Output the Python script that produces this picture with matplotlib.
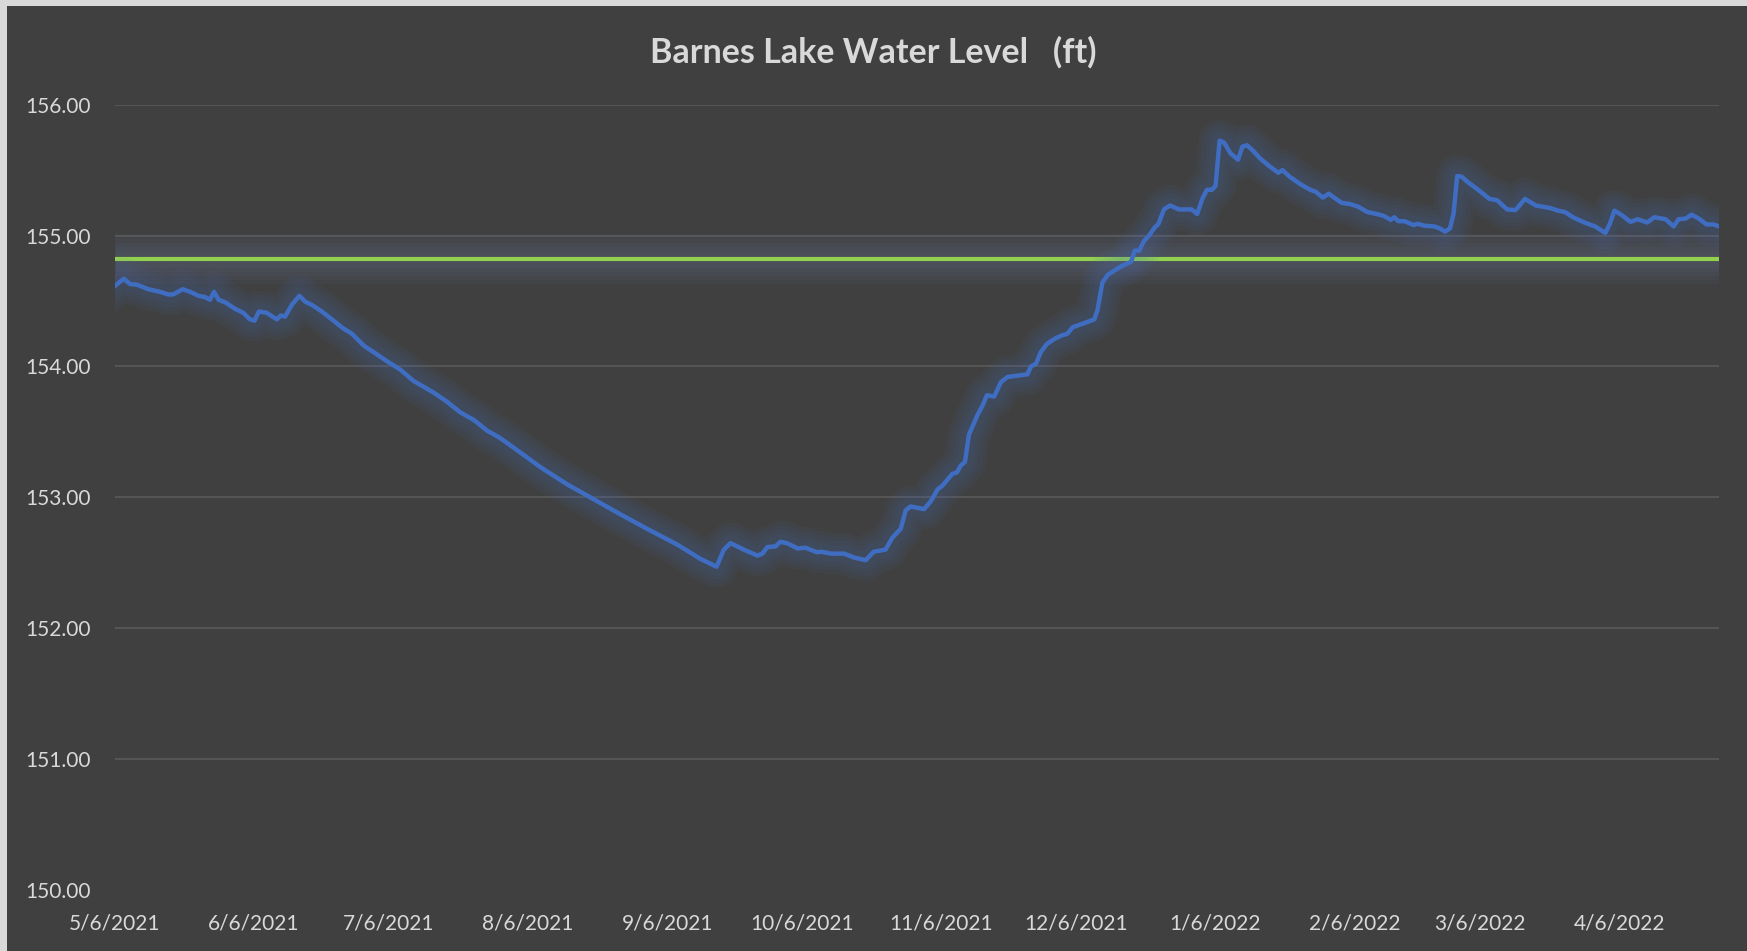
import datetime as dt
import matplotlib
matplotlib.use("Agg")
import matplotlib.pyplot as plt
import matplotlib.dates as mdates
import matplotlib.patheffects as pe

# Barnes Lake level (days after 5/6/2021, feet)
start = dt.date(2021, 5, 6)
days = [0, 2.0, 3.4, 4.9, 7.5, 10.1, 11.9, 13.0, 15.1, 16.8, 18.6, 20.1, 21.2, 22.1, 23.1,
        24.6, 26.8, 28.6, 30.1, 31.1, 32.1, 33.8, 36.1, 37.0, 37.9, 39.4, 41.1, 42.4, 43.9,
        46.1, 48.3, 50.9, 52.8, 55.4, 57.6, 60.6, 63.6, 66.5, 71.0, 74.0, 76.9, 80.0, 82.9,
        85.5, 88.8, 94.8, 100.7, 107.4, 112.6, 118.5, 125.2, 130.4, 134.0, 135.6, 137.1,
        140.1, 143.1, 144.2, 145.3, 147.1, 148.2, 149.7, 152.0, 153.8, 154.9, 156.4, 157.3,
        159.4, 162.4, 164.6, 167.2, 169.0, 171.6, 173.1, 175.0, 176.1, 177.2, 180.2, 181.7,
        183.2, 184.3, 186.5, 187.5, 188.4, 189.3, 190.2, 192.1, 193.2, 194.2, 195.8, 197.3,
        198.8, 201.0, 203.2, 204.0, 205.1, 206.2, 207.5, 209.2, 210.7, 212.1, 213.3, 215.8,
        218.1, 218.8, 219.9, 221.1, 222.9, 224.4, 226.3, 227.1, 228.1, 229.2, 230.3, 231.5,
        232.4, 233.6, 235.0, 236.9, 239.8, 241.0, 242.2, 243.2, 244.3, 245.1, 246.0, 247.0,
        248.4, 250.1, 251.1, 252.1, 253.4, 255.0, 257.1, 259.1, 260.0, 261.6, 264.1, 266.2,
        267.4, 269.0, 270.3, 271.5, 273.2, 275.2, 276.9, 278.9, 281.0, 282.6, 284.1, 284.9,
        285.8, 287.2, 289.2, 290.1, 291.7, 293.8, 295.0, 296.2, 297.3, 298.1, 298.9, 299.9,
        301.2, 302.4, 304.1, 306.1, 307.8, 310.0, 311.9, 314.0, 316.4, 318.1, 319.7, 321.4,
        322.9, 324.7, 327.2, 329.6, 331.9, 332.9, 333.9, 335.4, 337.5, 339.1, 341.2, 342.8,
        345.3, 347.1, 348.2, 349.8, 351.1, 352.7, 354.4, 356.0, 357.2]
level = [154.615, 154.67, 154.63, 154.625, 154.59, 154.57, 154.55, 154.55, 154.59, 154.57,
         154.54, 154.53, 154.51, 154.57, 154.51, 154.49, 154.44, 154.41, 154.36, 154.35,
         154.42, 154.41, 154.36, 154.39, 154.38, 154.47, 154.54, 154.495, 154.47, 154.42,
         154.36, 154.29, 154.25, 154.16, 154.11, 154.04, 153.975, 153.89, 153.80, 153.73,
         153.65, 153.59, 153.51, 153.46, 153.38, 153.23, 153.10, 152.97, 152.87, 152.76,
         152.64, 152.53, 152.47, 152.60, 152.65, 152.60, 152.555, 152.57, 152.62, 152.625,
         152.66, 152.65, 152.61, 152.615, 152.60, 152.58, 152.585, 152.57, 152.57, 152.54,
         152.52, 152.585, 152.60, 152.69, 152.76, 152.90, 152.93, 152.91, 152.97, 153.06,
         153.09, 153.18, 153.19, 153.245, 153.27, 153.48, 153.63, 153.70, 153.78, 153.77,
         153.88, 153.92, 153.93, 153.94, 154.00, 154.02, 154.11, 154.17, 154.21, 154.235,
         154.25, 154.30, 154.33, 154.36, 154.43, 154.64, 154.70, 154.74, 154.77, 154.80,
         154.885, 154.885, 154.96, 155.00, 155.06, 155.09, 155.20, 155.23, 155.20, 155.20,
         155.165, 155.285, 155.35, 155.35, 155.38, 155.725, 155.71, 155.63, 155.58, 155.68,
         155.69, 155.65, 155.59, 155.53, 155.48, 155.50, 155.45, 155.39, 155.35, 155.335,
         155.29, 155.32, 155.29, 155.25, 155.24, 155.22, 155.18, 155.165, 155.15, 155.12,
         155.14, 155.11, 155.11, 155.08, 155.09, 155.075, 155.07, 155.055, 155.03, 155.055,
         155.17, 155.455, 155.45, 155.41, 155.38, 155.335, 155.28, 155.27, 155.20, 155.195,
         155.28, 155.23, 155.22, 155.21, 155.19, 155.18, 155.14, 155.10, 155.07, 155.02,
         155.09, 155.19, 155.16, 155.105, 155.125, 155.10, 155.14, 155.125, 155.07, 155.125,
         155.13, 155.16, 155.13, 155.085, 155.085, 155.07]
target_level = 154.82
y_ticks = [150, 151, 152, 153, 154, 155, 156]
tick_dates = [dt.date(2021, m, 6) for m in range(5, 13)] + [dt.date(2022, m, 6) for m in range(1, 5)]

plt.rcParams["font.family"] = ["Lato", "DejaVu Sans"]
bg = "#404040"
txt = "#D9D9D9"

fig = plt.figure(figsize=(17.47, 9.51), dpi=100, facecolor=bg)
# light strip on left and top edge, as in the screenshot
fig.add_artist(plt.Rectangle((0, 0), 7 / 1747, 1, transform=fig.transFigure,
                             facecolor="#D9D9D9", edgecolor="none"))
fig.add_artist(plt.Rectangle((0, 1 - 6 / 951), 1, 6 / 951, transform=fig.transFigure,
                             facecolor="#D9D9D9", edgecolor="none"))
ax = fig.add_axes([114.8 / 1747, 1 - 890 / 951, (1719 - 114.8) / 1747, (890 - 104.7) / 951])
ax.set_facecolor(bg)

x0 = mdates.date2num(start)
xs = [x0 + d for d in days]

def glow_fx(color, widths, a):
    fx = [pe.Stroke(linewidth=w, foreground=color, alpha=a) for w in widths]
    fx.append(pe.Normal())
    return fx

ax.plot([xs[0], xs[-1]], [target_level, target_level], color="#92D050", lw=3.0,
        solid_capstyle="butt", zorder=3,
        path_effects=glow_fx("#6f84b0", [36, 30, 24, 18, 12], 0.055))
ax.plot(xs, level, color="#3F6DC2", lw=3.2, solid_joinstyle="round", zorder=4,
        path_effects=glow_fx("#4a72c0", [30, 24, 18, 12], 0.065))

ax.set_xlim(xs[0], xs[-1])
ax.set_ylim(150, 156)
ax.set_yticks(y_ticks)
ax.set_yticklabels([f"{v:.2f}" for v in y_ticks])
ax.set_xticks([mdates.date2num(d) for d in tick_dates])
ax.set_xticklabels([f"{d.month}/{d.day}/{d.year}" for d in tick_dates])

for v in y_ticks[1:]:
    ax.axhline(v, color="#5A5A5A", lw=1.2, zorder=1)

for s in ax.spines.values():
    s.set_visible(False)
ax.tick_params(axis="both", length=0, colors=txt, labelsize=15)
ax.tick_params(axis="y", pad=17)
ax.tick_params(axis="x", pad=17)

fig.text(0.5, 1 - 52 / 951, "Barnes Lake Water Level   (ft)", ha="center", va="center",
         color=txt, fontsize=24.5, fontweight="bold")

fig.savefig("out.png", dpi=100, facecolor=fig.get_facecolor())
